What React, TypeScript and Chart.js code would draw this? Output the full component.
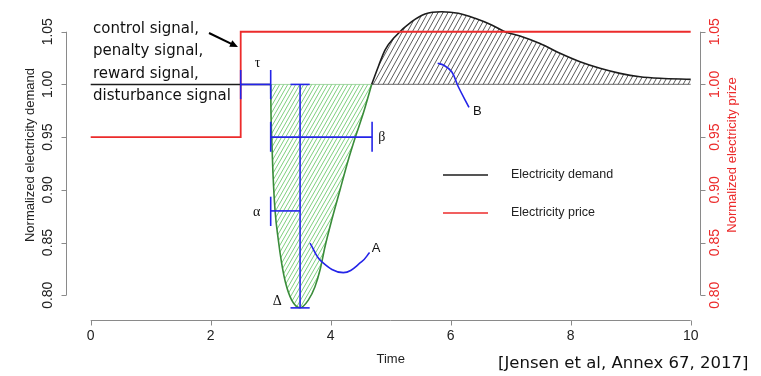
import React, { useEffect, useRef } from 'react';
import { Chart, registerables } from 'chart.js';

Chart.register(...registerables);

// ---------------- data ----------------
const xTicks = [0, 2, 4, 6, 8, 10];
const yTicks = [0.8, 0.85, 0.9, 0.95, 1.0, 1.05];
const yTickLabels = ['0.80', '0.85', '0.90', '0.95', '1.00', '1.05'];

const priceTime = [0, 2.5, 10];
const priceLevel = [0.95, 1.05, 1.05];

const baseTime = [0, 3.0];
const baseDemand = [1.0, 1.0];

const dipTime = [3.0, 3.005, 3.017, 3.038, 3.072, 3.127, 3.183, 3.25, 3.35, 3.488, 3.627, 3.738, 3.822, 3.905, 4.017, 4.155, 4.293, 4.405, 4.543, 4.683];
const dipDemand = [1.0, 0.9726, 0.9489, 0.9157, 0.8808, 0.8524, 0.8303, 0.8113, 0.7954, 0.7881, 0.7954, 0.8081, 0.8239, 0.846, 0.8713, 0.8998, 0.9283, 0.9489, 0.9726, 1.0];

const reboundTime = [4.683, 4.793, 4.905, 5.072, 5.35, 5.572, 5.85, 6.127, 6.405, 6.683, 6.905, 7.155, 7.488, 7.822, 8.155, 8.488, 8.822, 9.155, 9.488, 10.0];
const reboundDemand = [1.0, 1.0168, 1.0326, 1.0453, 1.0595, 1.0668, 1.069, 1.0675, 1.0627, 1.0564, 1.05, 1.0459, 1.0388, 1.0295, 1.0215, 1.0153, 1.0105, 1.0073, 1.0058, 1.0048];

const dipEdgeTime = [3.0, 4.683];
const reboundEdgeTime = [4.683, 10.0];
const edgeLevel = [1.0, 1.0];

const pointerATime = [3.655, 3.85, 4.21, 4.517, 4.648];
const pointerAValue = [0.8495, 0.8318, 0.8214, 0.8318, 0.8405];
const pointerBTime = [5.783, 5.877, 6.017, 6.127, 6.305];
const pointerBValue = [1.02, 1.0184, 1.012, 0.9978, 0.9783];

// bracket marks: [x0, y0, x1, y1]
const tauMarks = [[2.5, 1.0, 3.0, 1.0], [2.5, 0.986, 2.5, 1.0137], [3.0, 0.986, 3.0, 1.0137]];
const deltaMarks = [[3.49, 0.788, 3.49, 1.0], [3.33, 1.0, 3.65, 1.0], [3.33, 0.788, 3.65, 0.788]];
const betaMarks = [[3.0, 0.95, 4.69, 0.95], [3.0, 0.9361, 3.0, 0.9646], [4.69, 0.9361, 4.69, 0.9646]];
const alphaMarks = [[3.0, 0.88, 3.49, 0.88], [3.0, 0.8657, 3.0, 0.8935]];

// labels placed at data coordinates
const markLabels = [
  { text: 'τ', x: 2.78, y: 1.02, serif: true },
  { text: 'Δ', x: 3.11, y: 0.794, serif: true },
  { text: 'α', x: 2.767, y: 0.879, serif: true },
  { text: 'β', x: 4.85, y: 0.9496, serif: true },
  { text: 'A', x: 4.755, y: 0.8445, serif: false },
  { text: 'B', x: 6.443, y: 0.974, serif: false },
];

const signalLines = ['control signal,', 'penalty signal,', 'reward signal,', 'disturbance signal'];
const citation = '[Jensen et al, Annex 67, 2017]';

// ---------------- styles ----------------
const RED = '#ec2b2b';
const BLUE = '#2424e8';
const GREEN = '#3a8c3a';
const BLACK = '#1c1c1c';
const AXIS = '#8a8a8a';
const SANS = '"Liberation Sans", Arial, sans-serif';

const pts = (xs: number[], ys: number[]) => xs.map((x, i) => ({ x, y: ys[i] }));

function hatch(color: string, w: number, h: number) {
  const c = document.createElement('canvas');
  c.width = w; c.height = h;
  const g = c.getContext('2d')!;
  g.strokeStyle = color;
  g.lineWidth = 1;
  for (const dx of [-w, 0, w]) {
    g.beginPath();
    g.moveTo(dx, h);
    g.lineTo(dx + w, 0);
    g.stroke();
  }
  return g.createPattern(c, 'repeat')!;
}

const rPlugin = {
  id: 'rStyle',
  afterDraw(chart: any) {
    const { ctx, chartArea } = chart;
    const x = chart.scales.x;
    const y = chart.scales.y;
    const y2 = chart.scales.y2;
    ctx.save();

    // bottom axis
    const yb = chartArea.bottom + 0.5;
    ctx.strokeStyle = AXIS;
    ctx.lineWidth = 1;
    ctx.beginPath();
    ctx.moveTo(x.getPixelForValue(xTicks[0]), yb);
    ctx.lineTo(x.getPixelForValue(xTicks[xTicks.length - 1]), yb);
    xTicks.forEach((t) => {
      const px = Math.round(x.getPixelForValue(t)) + 0.5;
      ctx.moveTo(px, yb);
      ctx.lineTo(px, yb + 5);
    });
    ctx.stroke();
    ctx.fillStyle = '#222';
    ctx.font = `14px ${SANS}`;
    ctx.textAlign = 'center';
    ctx.textBaseline = 'middle';
    xTicks.forEach((t) => ctx.fillText(String(t), x.getPixelForValue(t), chartArea.bottom + 16));
    ctx.font = `13px ${SANS}`;
    ctx.fillText('Time', x.getPixelForValue(5), chartArea.bottom + 39);

    // left axis
    const xl = chartArea.left - 0.5;
    ctx.beginPath();
    ctx.moveTo(xl, y.getPixelForValue(yTicks[0]));
    ctx.lineTo(xl, y.getPixelForValue(yTicks[yTicks.length - 1]));
    yTicks.forEach((t) => {
      const py = Math.round(y.getPixelForValue(t)) + 0.5;
      ctx.moveTo(xl, py);
      ctx.lineTo(xl - 5, py);
    });
    ctx.stroke();
    ctx.font = `14px ${SANS}`;
    yTicks.forEach((t, i) => {
      ctx.save();
      ctx.translate(chartArea.left - 19, y.getPixelForValue(t));
      ctx.rotate(-Math.PI / 2);
      ctx.fillText(yTickLabels[i], 0, 0);
      ctx.restore();
    });
    ctx.font = `13px ${SANS}`;
    ctx.save();
    ctx.translate(chartArea.left - 37, 155);
    ctx.rotate(-Math.PI / 2);
    ctx.fillText('Normalized electricity demand', 0, 0);
    ctx.restore();

    // right axis
    const xr = chartArea.right - 0.5;
    ctx.beginPath();
    ctx.moveTo(xr, y2.getPixelForValue(yTicks[0]));
    ctx.lineTo(xr, y2.getPixelForValue(yTicks[yTicks.length - 1]));
    yTicks.forEach((t) => {
      const py = Math.round(y2.getPixelForValue(t)) + 0.5;
      ctx.moveTo(xr, py);
      ctx.lineTo(xr + 5, py);
    });
    ctx.stroke();
    ctx.fillStyle = RED;
    ctx.font = `14px ${SANS}`;
    yTicks.forEach((t, i) => {
      ctx.save();
      ctx.translate(chartArea.right + 14, y2.getPixelForValue(t));
      ctx.rotate(-Math.PI / 2);
      ctx.fillText(yTickLabels[i], 0, 0);
      ctx.restore();
    });
    ctx.font = `13px ${SANS}`;
    ctx.save();
    ctx.translate(chartArea.right + 31, 155);
    ctx.rotate(-Math.PI / 2);
    ctx.fillText('Normalized electricity prize', 0, 0);
    ctx.restore();

    // mark labels
    markLabels.forEach((m) => {
      ctx.fillStyle = '#111';
      ctx.font = m.serif ? `14px "Liberation Serif", serif` : `13px ${SANS}`;
      ctx.fillText(m.text, x.getPixelForValue(m.x), y.getPixelForValue(m.y));
    });

    // legend
    const legendItems = chart.data.datasets.filter((d: any) => d.legend);
    const lx0 = 443, lx1 = 488;
    const lys = [175, 213];
    legendItems.forEach((d: any, i: number) => {
      ctx.strokeStyle = d.borderColor;
      ctx.lineWidth = 1.5;
      ctx.beginPath();
      ctx.moveTo(lx0, lys[i]);
      ctx.lineTo(lx1, lys[i]);
      ctx.stroke();
      ctx.fillStyle = '#222';
      ctx.font = `12.5px ${SANS}`;
      ctx.textAlign = 'left';
      ctx.fillText(d.label, 511, lys[i]);
    });

    // annotation text
    ctx.fillStyle = '#111';
    ctx.textAlign = 'left';
    ctx.textBaseline = 'alphabetic';
    ctx.font = '15px "DejaVu Sans", sans-serif';
    signalLines.forEach((s, i) => ctx.fillText(s, 93, 32.5 + i * 22.6));
    ctx.font = '16.5px "DejaVu Sans", sans-serif';
    ctx.fillText(citation, 498, 368);

    // arrow
    const ax0 = 209, ay0 = 33, ax1 = 238, ay1 = 47;
    const ang = Math.atan2(ay1 - ay0, ax1 - ax0);
    ctx.strokeStyle = '#000';
    ctx.lineWidth = 2;
    ctx.beginPath();
    ctx.moveTo(ax0, ay0);
    ctx.lineTo(ax1 - 5 * Math.cos(ang), ay1 - 5 * Math.sin(ang));
    ctx.stroke();
    ctx.fillStyle = '#000';
    ctx.beginPath();
    ctx.moveTo(ax1, ay1);
    ctx.lineTo(ax1 - 8 * Math.cos(ang) + 3.5 * Math.sin(ang), ay1 - 8 * Math.sin(ang) - 3.5 * Math.cos(ang));
    ctx.lineTo(ax1 - 8 * Math.cos(ang) - 3.5 * Math.sin(ang), ay1 - 8 * Math.sin(ang) + 3.5 * Math.cos(ang));
    ctx.closePath();
    ctx.fill();

    ctx.restore();
  },
};

export default function App() {
  const ref = useRef<HTMLCanvasElement>(null);

  useEffect(() => {
    if (!ref.current) return;
    const greenHatch = hatch('#7fcf7f', 4, 7);
    const greyHatch = hatch('#5a5a5a', 5, 9);

    const segs = (marks: number[][]) =>
      marks.map((m) => ({
        data: [{ x: m[0], y: m[1] }, { x: m[2], y: m[3] }],
        borderColor: BLUE,
        borderWidth: 1.6,
        pointRadius: 0,
        fill: false,
        tension: 0,
      }));

    const datasets: any[] = [
      ...segs(tauMarks),
      ...segs(deltaMarks),
      ...segs(betaMarks),
      ...segs(alphaMarks),
      { data: pts(pointerATime, pointerAValue), borderColor: BLUE, borderWidth: 1.6, pointRadius: 0, fill: false, tension: 0.4 },
      { data: pts(pointerBTime, pointerBValue), borderColor: BLUE, borderWidth: 1.6, pointRadius: 0, fill: false, tension: 0.4 },
      {
        label: 'Electricity demand', legend: true,
        data: pts(baseTime, baseDemand), borderColor: BLACK, borderWidth: 1.6, pointRadius: 0, fill: false,
      },
      {
        label: 'Electricity price', legend: true, yAxisID: 'y2',
        data: pts(priceTime, priceLevel), borderColor: RED, borderWidth: 1.8, pointRadius: 0, fill: false, stepped: 'before',
      },
      {
        data: pts(dipTime, dipDemand), borderColor: GREEN, borderWidth: 1.6, pointRadius: 0,
        cubicInterpolationMode: 'monotone', fill: { value: 1.0 }, backgroundColor: greenHatch,
      },
      {
        data: pts(reboundTime, reboundDemand), borderColor: BLACK, borderWidth: 1.6, pointRadius: 0,
        cubicInterpolationMode: 'monotone', fill: { value: 1.0 }, backgroundColor: greyHatch,
      },
      { data: pts(dipEdgeTime, edgeLevel), borderColor: '#a6d8a6', borderWidth: 1, pointRadius: 0, fill: false },
      { data: pts(reboundEdgeTime, edgeLevel), borderColor: '#8a8a8a', borderWidth: 1.2, pointRadius: 0, fill: false },
    ];

    const chart = new Chart(ref.current, {
      type: 'line',
      data: { datasets },
      options: {
        animation: false,
        responsive: false,
        devicePixelRatio: 1,
        layout: { padding: { left: 67, right: 60, top: 0, bottom: 56 } },
        plugins: { legend: { display: false }, tooltip: { enabled: false } },
        events: [],
        scales: {
          x: { type: 'linear', display: false, min: -0.395, max: 10.172 },
          y: { type: 'linear', display: false, min: 0.7765, max: 1.0801 },
          y2: { type: 'linear', display: false, min: 0.7765, max: 1.0801, position: 'right' },
        },
      } as any,
      plugins: [rPlugin],
    });
    return () => chart.destroy();
  }, []);

  return (
    <div style={{ position: 'absolute', left: 0, top: 0, width: 761, height: 376, background: '#fff' }}>
      <canvas ref={ref} width={761} height={376} style={{ display: 'block' }} />
    </div>
  );
}
